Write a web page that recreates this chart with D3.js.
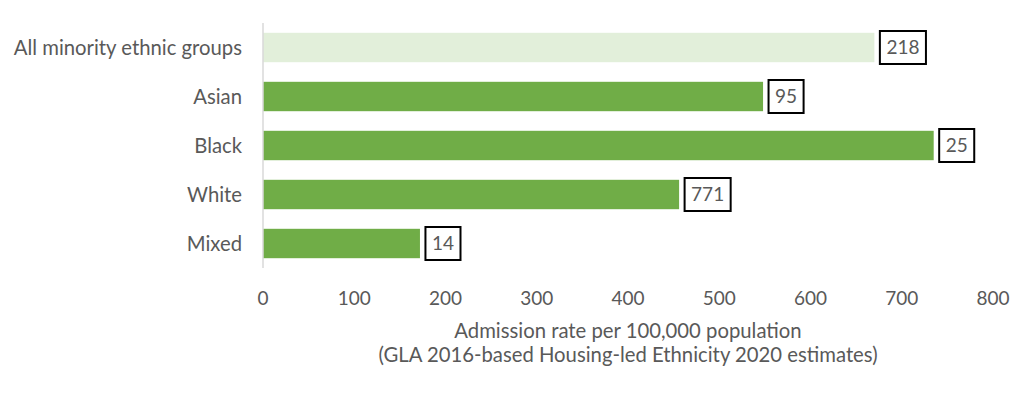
<!DOCTYPE html>
<html>
<head>
<meta charset="utf-8">
<script src="https://cdn.jsdelivr.net/npm/d3@7"></script>
<style>
  body { margin: 0; background: #fff; }
  svg { display: block; font-family: Lato, "Open Sans", sans-serif; }
</style>
</head>
<body>
<svg id="chart" width="1035" height="397"></svg>
<script>
const categories = ["All minority ethnic groups", "Asian", "Black", "White", "Mixed"];
const rates = [670, 548, 735, 456, 172];
const boxLabels = ["218", "95", "25", "771", "14"];
const xTicks = [0, 100, 200, 300, 400, 500, 600, 700, 800];
const titleLines = ["Admission rate per 100,000 population", "(GLA 2016-based Housing-led Ethnicity 2020 estimates)"];

const svg = d3.select("#chart");
const textColor = "#595959";

const x = d3.scaleLinear().domain([0, 800]).range([263, 993]);
const y = d3.scaleBand().domain(categories).range([23, 268])
    .paddingInner(0.4).paddingOuter(0.2);

const rows = categories.map((c, i) => ({ cat: c, v: rates[i], lab: boxLabels[i], i }));

// bars
svg.append("g")
    .selectAll("rect")
    .data(rows)
    .join("rect")
    .attr("x", x(0))
    .attr("y", d => y(d.cat))
    .attr("width", d => x(d.v) - x(0))
    .attr("height", y.bandwidth())
    .attr("fill", d => d.i === 0 ? "#e2efda" : "#70ad47");

// vertical axis line
svg.append("line")
    .attr("x1", x(0)).attr("x2", x(0))
    .attr("y1", 23).attr("y2", 268)
    .attr("stroke", "#d9d9d9")
    .attr("stroke-width", 1.5);

// category labels
svg.append("g")
    .selectAll("text")
    .data(rows)
    .join("text")
    .attr("x", 242)
    .attr("y", d => y(d.cat) + y.bandwidth() / 2)
    .attr("dy", "0.35em")
    .attr("text-anchor", "end")
    .attr("fill", textColor)
    .style("font-size", "20.3px")
    .text(d => d.cat);

// boxed labels
const lab = svg.append("g")
    .selectAll("g")
    .data(rows)
    .join("g");

lab.append("text")
    .attr("x", d => x(d.v) + 12)
    .attr("y", d => y(d.cat) + y.bandwidth() / 2)
    .attr("dy", "0.35em")
    .attr("fill", textColor)
    .style("font-size", "19px")
    .text(d => d.lab);

lab.insert("rect", "text")
    .attr("x", d => x(d.v) + 5.5)
    .attr("y", d => y(d.cat) + y.bandwidth() / 2 - 16.5)
    .attr("height", 33)
    .attr("width", function (d) {
        const t = d3.select(this.parentNode).select("text").node();
        return t.getComputedTextLength() + 13;
    })
    .attr("fill", "#fff")
    .attr("stroke", "#000")
    .attr("stroke-width", 2);

// x tick labels
svg.append("g")
    .selectAll("text")
    .data(xTicks)
    .join("text")
    .attr("x", d => x(d))
    .attr("y", 298)
    .attr("dy", "0.35em")
    .attr("text-anchor", "middle")
    .attr("fill", textColor)
    .style("font-size", "19px")
    .text(d => d);

// axis title
svg.append("g")
    .selectAll("text")
    .data(titleLines)
    .join("text")
    .attr("x", (x(0) + x(800)) / 2)
    .attr("y", (d, i) => 331 + i * 24)
    .attr("dy", "0.35em")
    .attr("text-anchor", "middle")
    .attr("fill", textColor)
    .style("font-size", "20.3px")
    .text(d => d);
</script>
</body>
</html>
